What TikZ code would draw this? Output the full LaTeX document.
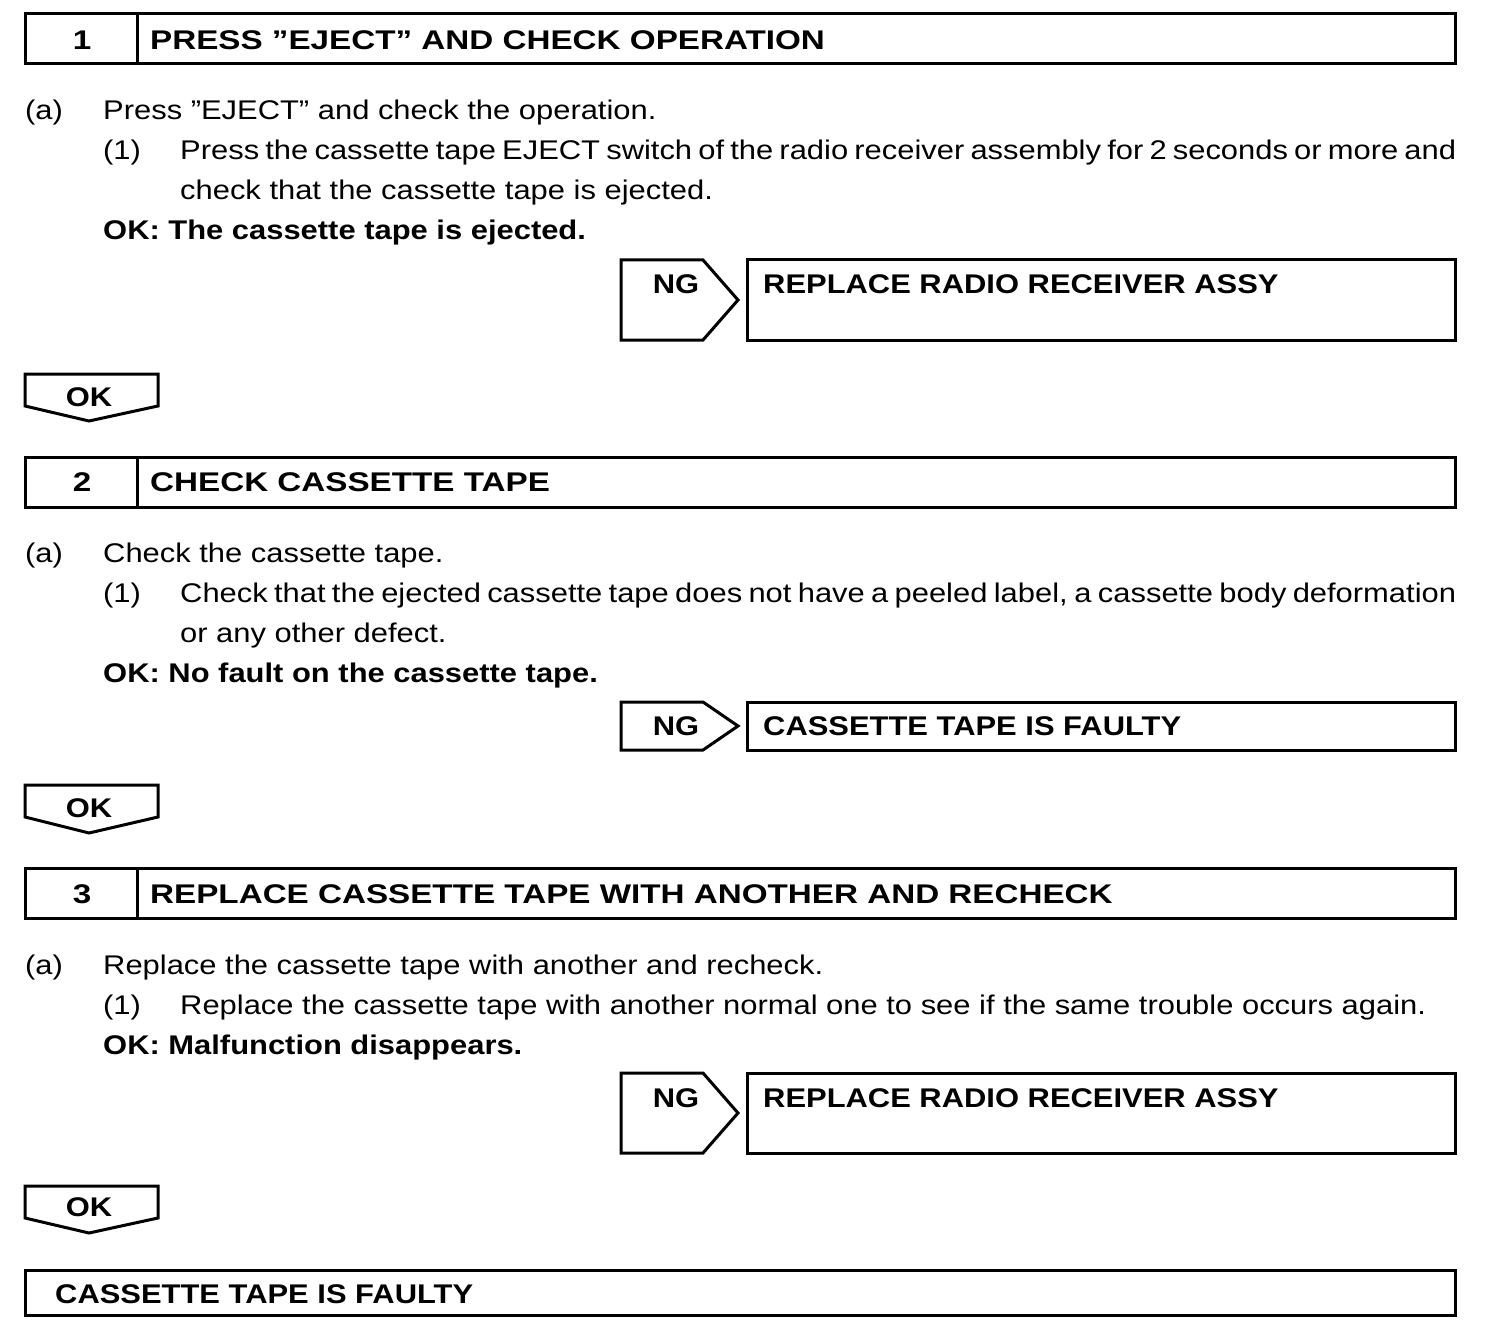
\documentclass[tikz,border=0pt]{standalone}
\usepackage{fontspec}
\setmainfont{Liberation Sans}
\newfontfamily\bodyfont[FakeStretch=1.145]{Liberation Sans}
\newfontfamily\headfont[FakeStretch=1.23]{Liberation Sans}
\usetikzlibrary{positioning}
\tikzset{
  frame/.style={draw,line width=3pt,line join=miter},
  txt/.style={anchor=base west,inner sep=0pt,font=\bodyfont\fontsize{27}{32}\selectfont},
  btxt/.style={txt,font=\bodyfont\bfseries\fontsize{27}{32}\selectfont},
  ctxt/.style={btxt,anchor=base},
  htxt/.style={txt,font=\headfont\bfseries\fontsize{27}{32}\selectfont},
}

\begin{document}
\begin{tikzpicture}[x=1pt,y=-1pt]
\useasboundingbox (0,0) rectangle (1504,1340);
% step 1
\draw[frame] (25,14) rectangle (1455,64);
\draw[frame] (137,14)--(137,64);
\node[htxt,anchor=base] (num1) at (82,50) {1};
\node[htxt] (head1) at (150,50) {PRESS ”EJECT” AND CHECK OPERATION};
\node[txt] (a1) at (25,120) {(a)};
\node[txt] (a1t) at (103,120) {Press ”EJECT” and check the operation.};
\node[txt] (s1) at (103,160) {(1)};
\node[txt] (s1t) at (180,160) {\hbox to 1276pt{Press the cassette tape EJECT switch of the radio receiver assembly for 2 seconds or more and}};
\node[txt] (s1u) at (180,200) {check that the cassette tape is ejected.};
\node[btxt] (ok1) at (103,240) {OK: The cassette tape is ejected.};
\draw[frame] (621,260)--(703,260)--(738,300)--(703,340)--(621,340)--cycle;
\node[ctxt] (ng1) at (676,294) {NG};
\draw[frame] (747,260) rectangle (1455,340);
\node[btxt] (res1) at (763,294) {REPLACE RADIO RECEIVER ASSY};
\draw[frame] (25,374)--(158,374)--(158,406)--(89,421)--(25,406)--cycle;
\node[ctxt] (go1) at (89,406) {OK};
% step 2
\draw[frame] (25,457) rectangle (1455,507);
\draw[frame] (137,457)--(137,507);
\node[htxt,anchor=base] (num2) at (82,491) {2};
\node[htxt] (head2) at (150,491) {CHECK CASSETTE TAPE};
\node[txt] (a2) at (25,562) {(a)};
\node[txt] (a2t) at (103,562) {Check the cassette tape.};
\node[txt] (s2) at (103,602) {(1)};
\node[txt] (s2t) at (180,602) {\hbox to 1276pt{Check that the ejected cassette tape does not have a peeled label, a cassette body deformation}};
\node[txt] (s2u) at (180,642) {or any other defect.};
\node[btxt] (ok2) at (103,682) {OK: No fault on the cassette tape.};
\draw[frame] (621,702)--(703,702)--(738,726)--(703,750)--(621,750)--cycle;
\node[ctxt] (ng2) at (676,735) {NG};
\draw[frame] (747,702) rectangle (1455,750);
\node[btxt] (res2) at (763,735) {CASSETTE TAPE IS FAULTY};
\draw[frame] (25,785)--(158,785)--(158,817)--(89,833)--(25,817)--cycle;
\node[ctxt] (go2) at (89,817) {OK};
% step 3
\draw[frame] (25,868) rectangle (1455,918);
\draw[frame] (137,868)--(137,918);
\node[htxt,anchor=base] (num3) at (82,903) {3};
\node[htxt] (head3) at (150,903) {REPLACE CASSETTE TAPE WITH ANOTHER AND RECHECK};
\node[txt] (a3) at (25,974) {(a)};
\node[txt] (a3t) at (103,974) {Replace the cassette tape with another and recheck.};
\node[txt] (s3) at (103,1014) {(1)};
\node[txt] (s3t) at (180,1014) {Replace the cassette tape with another normal one to see if the same trouble occurs again.};
\node[btxt] (ok3) at (103,1054) {OK: Malfunction disappears.};
\draw[frame] (621,1073)--(703,1073)--(738,1113)--(703,1153)--(621,1153)--cycle;
\node[ctxt] (ng3) at (676,1107) {NG};
\draw[frame] (747,1073) rectangle (1455,1153);
\node[btxt] (res3) at (763,1107) {REPLACE RADIO RECEIVER ASSY};
\draw[frame] (25,1186)--(158,1186)--(158,1218)--(89,1233)--(25,1218)--cycle;
\node[ctxt] (go3) at (89,1216) {OK};
% result
\draw[frame] (25,1270) rectangle (1455,1315);
\node[btxt] (fin) at (55,1303) {CASSETTE TAPE IS FAULTY};
\end{tikzpicture}
\end{document}
